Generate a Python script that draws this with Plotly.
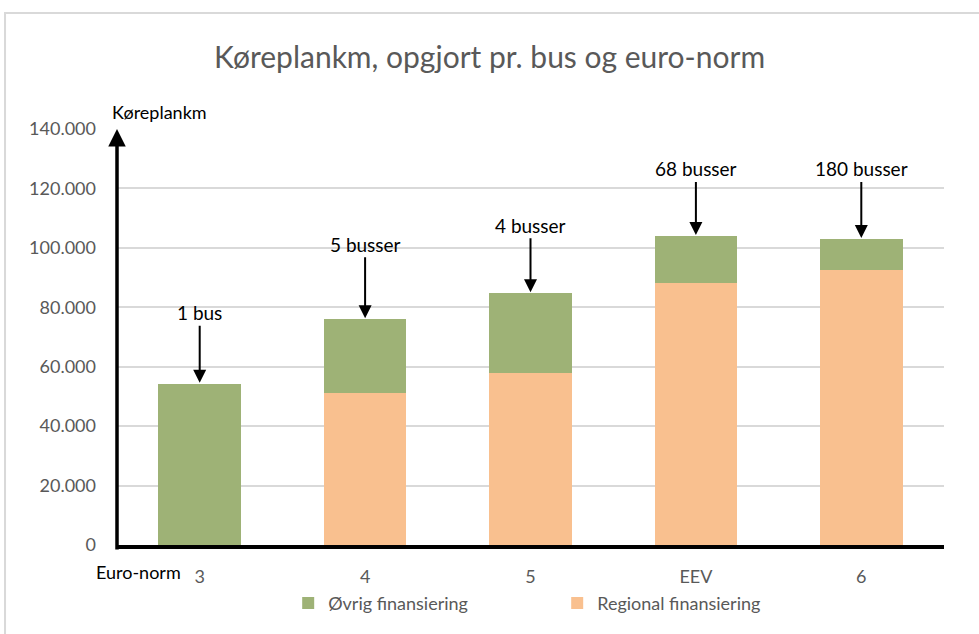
import plotly.graph_objects as go

# --- Data ---
categories = ["3", "4", "5", "EEV", "6"]
regional = [0, 51300, 58000, 88300, 92700]
ovrig = [54300, 24700, 26700, 15700, 10300]
bus_labels = ["1 bus", "5 busser", "4 busser", "68 busser", "180 busser"]
y_ticks = [0, 20000, 40000, 60000, 80000, 100000, 120000, 140000]

# --- Styling ---
FONT = "Lato, 'Open Sans', sans-serif"
GREY = "#595959"
GREEN = "#9eb276"
ORANGE = "#f9c08f"

fig = go.Figure()
fig.add_trace(go.Bar(x=categories, y=regional, name="Regional finansiering",
                     marker=dict(color=ORANGE, line=dict(width=0))))
fig.add_trace(go.Bar(x=categories, y=ovrig, name="Øvrig finansiering",
                     marker=dict(color=GREEN, line=dict(width=0))))

# arrows with bus counts pointing to each bar top
arrow_len = [-71, -75, -68, -67, -70]
annotations = []
for i, (r, o, lab, ay) in enumerate(zip(regional, ovrig, bus_labels, arrow_len)):
    annotations.append(dict(
        x=i, y=r + o, xref="x", yref="y", text=lab,
        showarrow=True, ax=0, ay=ay, arrowhead=2, arrowsize=1.3,
        arrowwidth=2, arrowcolor="black", standoff=1,
        font=dict(family=FONT, size=19, color="black"),
    ))

# y-axis arrow
annotations.append(dict(
    x=0, y=140000, xref="paper", yref="y", text="",
    showarrow=True, axref="pixel", ayref="pixel", ax=0, ay=422,
    arrowhead=2, arrowsize=1.0, arrowwidth=3.5, arrowcolor="black",
))
annotations.append(dict(
    x=-0.008, y=1.0, xref="paper", yref="paper", text="Køreplankm",
    showarrow=False, xanchor="left", yanchor="bottom", yshift=4,
    font=dict(family=FONT, size=18, color="black"),
))
annotations.append(dict(
    x=0.08, y=-0.065, xref="paper", yref="paper", text="Euro-norm",
    showarrow=False, xanchor="right", yanchor="middle",
    font=dict(family=FONT, size=18, color="black"),
))

fig.update_layout(
    barmode="stack",
    bargap=0.5,
    width=979,
    height=634,
    margin=dict(l=117, r=35, t=129, b=85),
    paper_bgcolor="white",
    plot_bgcolor="white",
    separators=",.",
    font=dict(family=FONT, size=18, color=GREY),
    title=dict(text="Køreplankm, opgjort pr. bus og euro-norm",
               x=0.5, xanchor="center", y=0.909, yanchor="middle",
               font=dict(family=FONT, size=30, color=GREY)),
    showlegend=True,
    legend=dict(orientation="h", x=0.207, xanchor="left", y=-0.14, yanchor="middle",
                traceorder="reversed", entrywidth=224,
                font=dict(family=FONT, size=18, color=GREY)),
    annotations=annotations,
    shapes=[dict(type="rect", xref="paper", yref="paper",
                 x0=-0.1354, y0=-1.0, x1=2.0, y1=1.2786,
                 line=dict(color="#d9d9d9", width=2), layer="below")],
)

fig.update_xaxes(type="category", range=[-0.5, 4.5],
                 showline=True, linecolor="black", linewidth=4, ticks="",
                 tickfont=dict(family=FONT, size=18, color=GREY),
                 ticklabelstandoff=12, showgrid=False)
fig.update_yaxes(range=[0, 140000], tickvals=y_ticks, tickformat=",d",
                 showgrid=True, gridcolor="#d9d9d9", gridwidth=1.5,
                 zeroline=False, showline=False, ticks="",
                 ticklabelstandoff=20,
                 tickfont=dict(family=FONT, size=18, color=GREY))

fig.write_html("out.html", config={"displayModeBar": False},
               post_script="document.body.style.margin='0';")
